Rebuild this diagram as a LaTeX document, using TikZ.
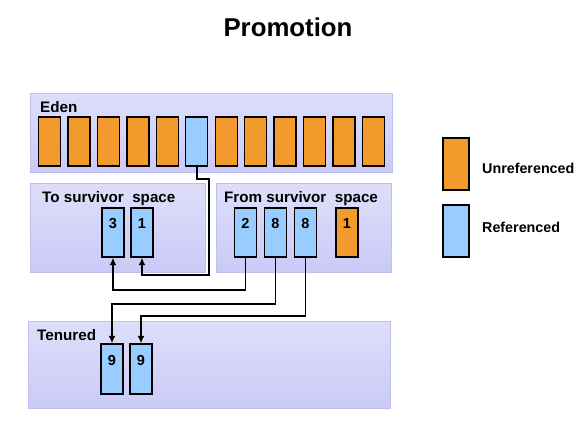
\documentclass[tikz,border=0pt]{standalone}
\usepackage{fontspec}
\setmainfont{Liberation Sans}
\usetikzlibrary{arrows.meta}
\definecolor{unrefcol}{RGB}{242,154,44}
\definecolor{refcol}{RGB}{153,204,255}
\definecolor{spacetop}{RGB}{222,222,250}
\definecolor{spacebot}{RGB}{202,202,248}
\definecolor{spaceline}{RGB}{192,192,240}
\tikzset{
  space/.style={top color=spacetop, bottom color=spacebot, draw=spaceline, line width=1pt},
  spacename/.style={anchor=west, font=\bfseries\fontsize{15.2}{17}\selectfont, inner sep=0pt},
  keyname/.style={anchor=west, font=\bfseries\fontsize{14.3}{16}\selectfont, inner sep=0pt},
  obj/.style={draw=black, line width=1.4pt, minimum width=22pt, minimum height=49pt, inner sep=0pt},
  unref/.style={obj, fill=unrefcol},
  ref/.style={obj, fill=refcol},
  num/.style={font=\bfseries\fontsize{14.5}{16}\selectfont, text height=16pt, text depth=24pt},
  wire/.style={draw=black, line width=1.9pt, -{Latex[length=7.5pt,width=7pt]}}
}
\begin{document}
\begin{tikzpicture}[x=1pt,y=-1pt]
\useasboundingbox [fill=white] (0,0) rectangle (584,437);
\node (title) at (288,27) {\bfseries\fontsize{25.8}{30}\selectfont Promotion};

% generation spaces
\shade [space] (30,93) rectangle (392,172);
\shade [space] (30,183) rectangle (205,272);
\shade [space] (216,183) rectangle (391,272);
\shade [space] (28,321) rectangle (390,408);
\node [spacename] (eden) at (40,107) {Eden};
\node [spacename] (to) at (42,199) {To survivor\ \ space};
\node [spacename] (from) at (224,199) {From survivor\ \ space};
\node [spacename] (tenured) at (37,335) {Tenured};

% eden objects
\foreach \i in {1,...,12} {
  \ifnum\i=6
    \node [ref] (e\i) at ({49.5+29.45*(\i-1)},141.5) {};
  \else
    \node [unref] (e\i) at ({49.5+29.45*(\i-1)},141.5) {};
  \fi
}

% survivor objects
\node [ref, num] (t3) at (113,232.5) {3};
\node [ref, num] (t1) at (142,232.5) {1};
\node [ref, num] (f2) at (245.5,232.5) {2};
\node [ref, num] (f8a) at (275.5,232.5) {8};
\node [ref, num] (f8b) at (305.5,232.5) {8};
\node [unref, num] (f1) at (347,232.5) {1};

% tenured objects
\node [ref, num, minimum height=50pt] (n9a) at (112,369) {9};
\node [ref, num, minimum height=50pt] (n9b) at (141,369) {9};

% legend
\node [unref, minimum width=26pt, minimum height=52pt] (keyu) at (456,164) {};
\node [ref, minimum width=26pt, minimum height=52pt] (keyr) at (456,231) {};
\node [keyname] (keyutext) at (482,168) {Unreferenced};
\node [keyname] (keyrtext) at (482,227) {Referenced};

% copying
\coordinate (bend) at (209,275);
\draw [wire] (e6.south) -- ++(0,12) -| (bend) -| (t1.south);
\draw [wire] (f2.south) -- ++(0,32) -| (t3.south);
\draw [wire] (f8a.south) -- ++(0,46) -| (n9a.north);
\draw [wire] (f8b.south) -- ++(0,58) -| (n9b.north);
\end{tikzpicture}
\end{document}
